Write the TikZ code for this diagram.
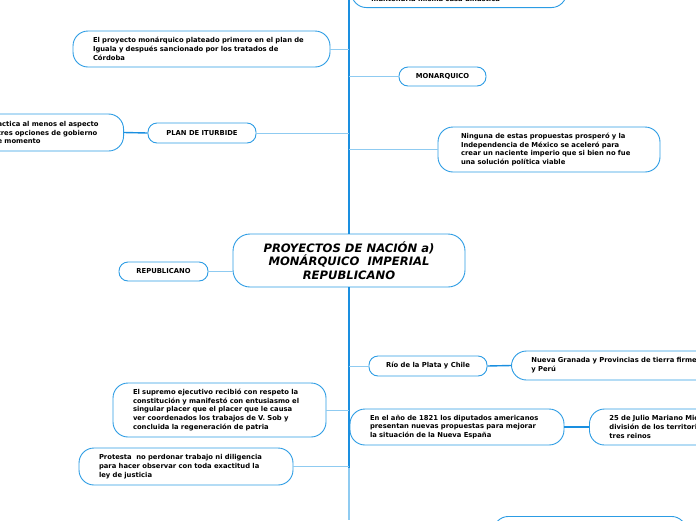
\documentclass[tikz,border=0pt]{standalone}
\usepackage{fontspec}
\setmainfont{DejaVu Sans}
\usetikzlibrary{positioning, calc}
\usepackage{xcolor}
\definecolor{boxblue}{HTML}{2C9CE4}
\definecolor{spineblue}{HTML}{1A8FE0}
\definecolor{twigblue}{HTML}{8FCBF1}
\newcommand{\boxfont}{\fontsize{6.8}{8.9}\selectfont\bfseries}

\begin{document}
\begin{tikzpicture}[
    x=1pt, y=-1pt,
    topic/.style={draw=boxblue, line width=0.9pt, fill=white, rounded corners=15pt, font=\boxfont, align=left, inner xsep=20pt, inner ysep=4pt},
    tag/.style={draw=boxblue, line width=0.9pt, fill=white, rounded corners=9pt, font=\boxfont, align=center, inner sep=2pt},
    root/.style={draw=boxblue, line width=0.9pt, fill=white, rounded corners=17pt, font=\fontsize{11.6}{13.8}\selectfont\bfseries\itshape, align=center, minimum width=232pt, minimum height=53pt},
    spine/.style={draw=spineblue, line width=2.8pt},
    twig/.style={draw=twigblue, line width=0.7pt},
    link/.style={draw=spineblue, line width=1.4pt}
]
    \useasboundingbox (0,0) rectangle (696,520);
    \clip (0,0) rectangle (696,520);

    \coordinate (top) at (349,0);
    \coordinate (fork) at (349,468);
    \coordinate (bottom) at (349,520);

    % upper branches
    \node[topic, anchor=south west, text width=175pt] (casa) at (351,8) {\rule[-2.5pt]{0pt}{28pt}mantendría misma casa dinástica};
    \node[topic, text width=217pt, minimum height=36pt] (proyecto) at (201.5,49) {El proyecto monárquico plateado primero en el plan de\\Iguala y después sancionado por los tratados de\\Córdoba};
    \node[tag, minimum width=87pt, minimum height=19pt] (monarquico) at (442.5,76.5) {MONARQUICO};
    \node[tag, minimum width=108pt, minimum height=20pt] (iturbide) at (202,133) {PLAN DE ITURBIDE};
    \node[topic, anchor=east, minimum height=37pt, text width=106pt] (practica) at (124,132.5) {actica al menos el aspecto\\tres opciones de gobierno\\e momento};
    \node[topic, inner xsep=23pt, text width=176pt, minimum height=45pt] (ninguna) at (549,149.5) {Ninguna de estas propuestas prosperó y la\\Independencia de México se aceleró para\\crear un naciente imperio que si bien no fue\\una solución política viable};

    % centre
    \node[root] (proyectos) at (349,260.5) {PROYECTOS DE NACIÓN a)\\MONÁRQUICO\ \ IMPERIAL\\REPUBLICANO};
    \node[tag, minimum width=89pt, minimum height=19pt] (republicano) at (163.5,271.5) {REPUBLICANO};

    % lower branches
    \node[tag, minimum width=118pt, minimum height=20pt] (rio) at (428,366) {Río de la Plata y Chile};
    \node[topic, anchor=west, text width=190pt, minimum height=29pt] (granada) at (511,365.5) {Nueva Granada y Provincias de tierra firme\\y Perú};
    \node[topic, text width=174pt, minimum height=36pt] (diputados) at (457,427) {En el año de 1821 los diputados americanos\\presentan nuevas propuestas para mejorar\\la situación de la Nueva España};
    \node[topic, anchor=west, text width=180pt, minimum height=36pt] (julio) at (589,427) {25 de Julio Mariano Michelena\\división de los territorios en\\tres reinos};
    \node[topic, text width=173pt, minimum height=54pt] (supremo) at (219.5,410) {El supremo ejecutivo recibió con respeto la\\constitución y manifestó con entusiasmo el\\singular placer que el placer que le causa\\ver coordenados los trabajos de V. Sob y\\concluida la regeneración de patria};
    \node[topic, text width=174pt, minimum height=37pt] (protesta) at (186,466.5) {Protesta\ \ no perdonar trabajo ni diligencia\\para hacer observar con toda exactitud la\\ley de justicia};
    \node[topic, anchor=north west, text width=153pt, minimum height=30pt] (ultimo) at (493,516) {};

    % spine
    \draw[spine] (top) -- (proyectos.north);
    \draw[spine] (proyectos.south) -- (fork);
    \draw[twig, line width=1.3pt] (fork) -- (bottom);

    % connectors
    \draw[twig] (proyecto.east) -- (proyecto -| top);
    \draw[twig] (monarquico.west) -- (monarquico -| top);
    \draw[twig] (iturbide.east) -- (iturbide -| top);
    \draw[link] (practica.east) -- (iturbide.west);
    \draw[twig] (ninguna.west) -- (ninguna -| top);
    \draw[twig] (republicano.east) -- (proyectos.west |- republicano);
    \draw[twig] (rio.west) -- (rio -| top);
    \draw[link] (rio.east) -- (granada.west);
    \draw[link] (diputados.east) -- (julio.west);
    \draw[twig] (supremo.east) -- (supremo -| top);
    \draw[twig] (protesta.east) -- (protesta -| top);
\end{tikzpicture}
\end{document}
